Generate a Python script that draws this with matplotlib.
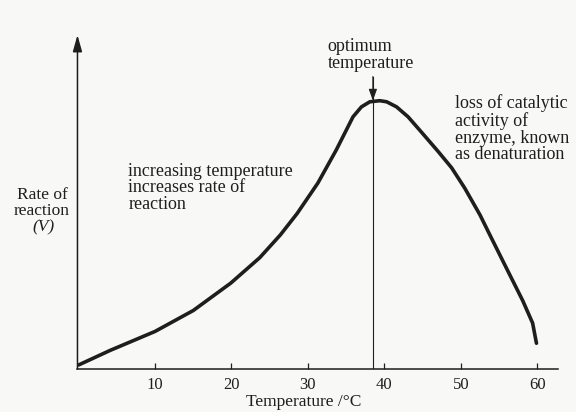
import matplotlib.pyplot as plt

# values (temperature in degC, rate in arbitrary units, peak = 100)
temps = [0, 4.1, 10, 15, 19.9, 23.7, 26.4, 28.6, 31.3, 33.7, 34.8, 35.9, 37.0,
         38.1, 39.4, 40.3, 41.6, 43.1, 45.0, 47.0, 48.8, 50.5, 52.5, 53.8,
         55.9, 58.1, 59.4, 59.9]
rate = [1.5, 6.9, 14.0, 21.8, 32.0, 41.5, 50.0, 58.0, 69.3, 81.6, 87.8, 94.0, 97.7,
        99.6, 100, 99.6, 97.7, 94.0, 87.8, 81.2, 75.0, 67.5, 57.5, 50.0,
        38.0, 25.5, 17.1, 9.6]
xticks = [10, 20, 30, 40, 50, 60]
optimum_t = 38.5
optimum_v = 100

plt.rcParams['font.family'] = ['Liberation Serif', 'DejaVu Serif']
ink = '#1e1e1e'
paper = '#f8f8f6'

fig = plt.figure(figsize=(5.76, 4.12), dpi=100, facecolor=paper)
ax = fig.add_axes([0.1345, 0.1044, 0.834, 0.8107])
ax.set_facecolor(paper)
ax.set_xlim(-0.15, 62.7)
ax.set_ylim(0, 124.5)

for s in ['top', 'right', 'left']:
    ax.spines[s].set_visible(False)
ax.spines['bottom'].set_linewidth(1.1)
ax.spines['bottom'].set_color(ink)

# y axis with arrow head
ax.annotate('', xy=(0, 1), xycoords='axes fraction', xytext=(0, 0),
            textcoords='axes fraction',
            arrowprops=dict(arrowstyle='-|>,head_length=1.0,head_width=0.28',
                            color=ink, lw=1.1, shrinkA=0, shrinkB=0))

ax.set_xticks(xticks)
ax.set_yticks([])
ax.tick_params(axis='x', direction='in', length=4, width=0.9, color=ink,
               labelsize=12, labelcolor=ink, pad=6)

ax.plot(temps, rate, color=ink, lw=2.6, solid_capstyle='round',
        solid_joinstyle='round')

# optimum line and arrow
ax.plot([optimum_t, optimum_t], [0, optimum_v + 9], color=ink, lw=0.8)
ax.annotate('', xy=(optimum_t, optimum_v), xytext=(optimum_t, optimum_v + 9),
            arrowprops=dict(arrowstyle='-|>,head_length=0.7,head_width=0.25',
                            color=ink, lw=0.8, shrinkA=0, shrinkB=0))

ax.text(32.6, 117, 'optimum\ntemperature', fontsize=13, color=ink,
        ha='left', va='center', linespacing=0.95)
ax.text(6.5, 67.5, 'increasing temperature\nincreases rate of\nreaction',
        fontsize=13, color=ink, ha='left', va='center', linespacing=0.95)
ax.text(49.2, 89.5, 'loss of catalytic\nactivity of\nenzyme, known\nas denaturation',
        fontsize=13, color=ink, ha='left', va='center', linespacing=0.98)

fig.text(42 / 576, 1 - 195 / 412, 'Rate of', fontsize=12.5, color=ink,
         ha='center', va='center')
fig.text(42 / 576, 1 - 211 / 412, 'reaction', fontsize=12.5, color=ink,
         ha='center', va='center')
fig.text(43 / 576, 1 - 227 / 412, '(V)', fontsize=12.5, color=ink,
         ha='center', va='center', style='italic')
fig.text(304 / 576, 1 - 402 / 412, 'Temperature /°C', fontsize=12.5, color=ink,
         ha='center', va='center')

fig.savefig('out.png', dpi=100, facecolor=paper)
